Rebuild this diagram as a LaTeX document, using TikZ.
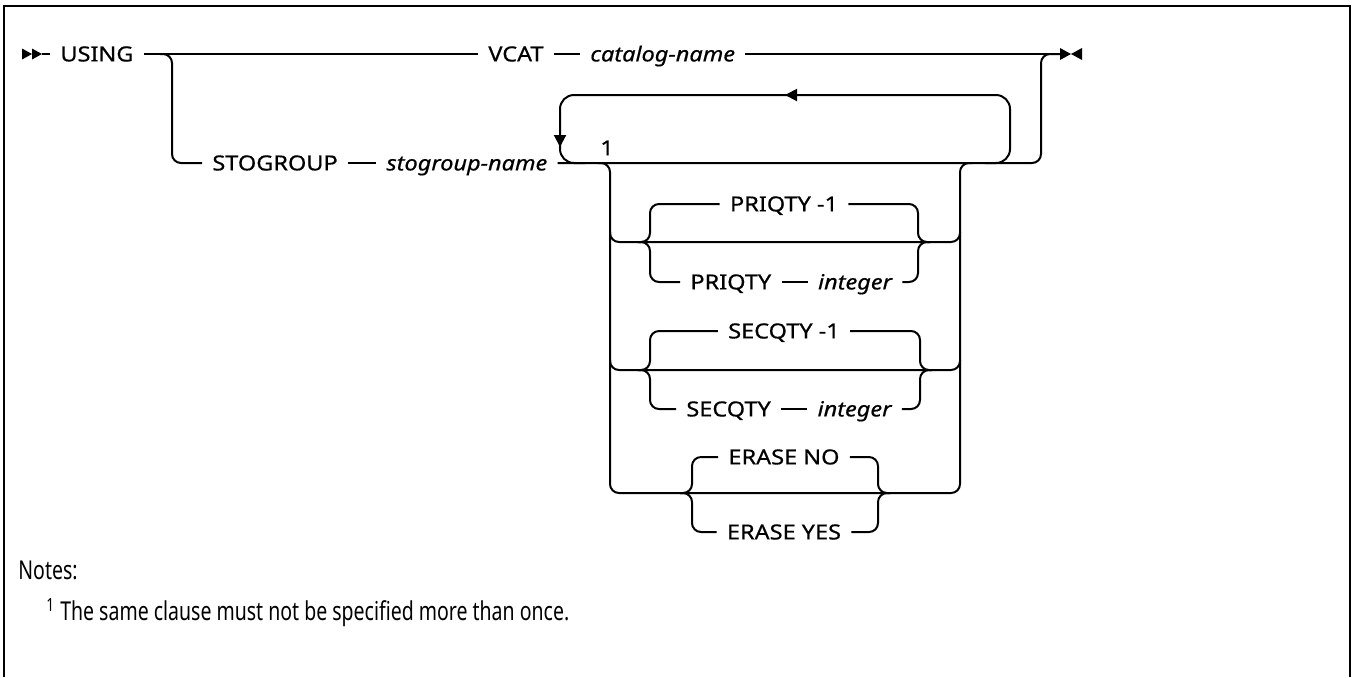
\documentclass[tikz,border=0pt]{standalone}
\usepackage{fontspec}
\setmainfont{Noto Sans}[FakeStretch=1.13, FakeBold=0.6]
\newfontfamily\notefont[FakeStretch=0.75]{Noto Sans}
\usepackage{tikz}
\usetikzlibrary{arrows.meta,positioning}

\tikzset{
  kw/.style={inner xsep=5pt, inner ysep=0pt, text height=7.4pt, text depth=0pt,
    font=\fontsize{10.4}{12}\selectfont},
  var/.style={kw, font=\fontsize{10.4}{12}\selectfont\itshape},
  rail/.style={line width=1pt, rounded corners=4.5pt},
  backloop/.style={line width=1pt, rounded corners=7pt},
  notetxt/.style={inner sep=0pt, anchor=base west, font=\notefont\fontsize{13}{15}\selectfont},
}

\begin{document}
\begin{tikzpicture}[x=0.5pt, y=-0.5pt]
    \useasboundingbox (0,0) rectangle (1352,677);
    % Frame, open at the bottom
    \draw[line width=1pt] (4,677) -- (4,6) -- (1350,6) -- (1350,677);

    % Start and end marks
    \fill (22,48.5) -- (32,54) -- (22,59.5) -- cycle;
    \fill (32,48.5) -- (42,54) -- (32,59.5) -- cycle;
    \coordinate (start) at (42,54);
    \fill (1060,48) -- (1071,54) -- (1060,60) -- cycle;
    \fill (1082,48) -- (1071,54) -- (1082,60) -- cycle;
    \coordinate (stop) at (1061,54);

    % Main row
    \node[kw, anchor=west] (using) at (50,54) {USING};
    \node[kw, anchor=west] (vcat) at (478,54) {VCAT};
    \node[var, right=13pt of vcat] (catname) {catalog-name};
    \draw[line width=1pt] (start) -- (using.west);
    \draw[line width=1pt] (using.east) -- (vcat.west);
    \draw[line width=1pt] (vcat.east) -- (catname.west);
    \draw[line width=1pt] (catname.east) -- (stop);

    % STOGROUP branch
    \node[kw, anchor=west] (stogroup) at (202,163) {STOGROUP};
    \node[var, right=14pt of stogroup] (sgname) {stogroup-name};
    \draw[rail] (160,54) -- (172,54) -- (172,163) -- (stogroup.west);
    \draw[line width=1pt] (stogroup.east) -- (sgname.west);
    \draw[rail] (sgname.east) -- (1041,163) -- (1041,54) -- (stop);

    % Repeat loop with note mark
    \draw[backloop] (585,163) -- (560,163) -- (560,95) -- (1010,95) -- (1010,163) -- (985,163);
    \draw[line width=1pt, -{Triangle[length=6pt,width=6pt]}] (800,95) -- (785,95);
    \draw[line width=1pt, -{Triangle[length=6pt,width=6pt]}] (560,125) -- (560,147);
    \node[kw, inner xsep=0pt] (fn1) at (607,148) {1};

    % Choice rails
    \draw[rail] (598,163) -- (610,163) -- (610,493) -- (960,493) -- (960,163) -- (972,163);
    \draw[rail] (610,232) -- (610,242) -- (960,242) -- (960,232);
    \draw[rail] (610,360) -- (610,370) -- (960,370) -- (960,360);

    % PRIQTY
    \node[kw] (priqdef) at (784,204) {PRIQTY -1};
    \node[kw, anchor=west] (priqkw) at (680,282) {PRIQTY};
    \node[var, right=13pt of priqkw] (priqint) {integer};
    \draw[rail] (638,242) -- (650,242) -- (650,204) -- (priqdef.west);
    \draw[rail] (638,242) -- (650,242) -- (650,282) -- (priqkw.west);
    \draw[line width=1pt] (priqkw.east) -- (priqint.west);
    \draw[rail] (priqdef.east) -- (918,204) -- (918,242) -- (930,242);
    \draw[rail] (priqint.east) -- (918,282) -- (918,242) -- (930,242);

    % SECQTY
    \node[kw] (secqdef) at (784,331) {SECQTY -1};
    \node[kw, anchor=west] (secqkw) at (676,409) {SECQTY};
    \node[var, right=13pt of secqkw] (secqint) {integer};
    \draw[rail] (638,370) -- (650,370) -- (650,331) -- (secqdef.west);
    \draw[rail] (638,370) -- (650,370) -- (650,409) -- (secqkw.west);
    \draw[line width=1pt] (secqkw.east) -- (secqint.west);
    \draw[rail] (secqdef.east) -- (920,331) -- (920,370) -- (932,370);
    \draw[rail] (secqint.east) -- (920,409) -- (920,370) -- (932,370);

    % ERASE
    \node[kw] (erasedef) at (784,457) {ERASE NO};
    \node[kw] (eraseyes) at (784,532) {ERASE YES};
    \draw[rail] (680,493) -- (692,493) -- (692,457) -- (erasedef.west);
    \draw[rail] (680,493) -- (692,493) -- (692,532) -- (eraseyes.west);
    \draw[rail] (erasedef.east) -- (878,457) -- (878,493) -- (890,493);
    \draw[rail] (eraseyes.east) -- (878,532) -- (878,493) -- (890,493);

    % Notes
    \node[notetxt] (notes) at (18,579) {Notes:};
    \node[notetxt] (note1) at (46,620) {\textsuperscript{1} The same clause must not be specified more than once.};
\end{tikzpicture}
\end{document}
